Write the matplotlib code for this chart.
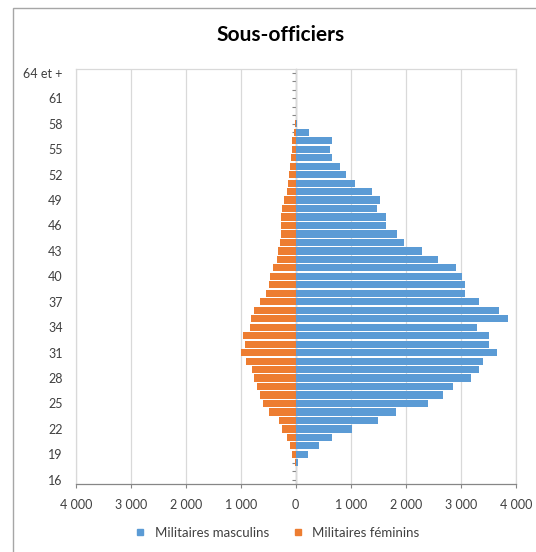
import numpy as np
import matplotlib
matplotlib.use("Agg")
from matplotlib import pyplot as plt
from matplotlib.lines import Line2D
from matplotlib.patches import Rectangle

plt.rcParams['font.family'] = ['Lato', 'DejaVu Sans']

c_m = '#5B9BD5'
c_f = '#ED7D31'
grid_c = '#D9D9D9'
axis_c = '#868686'

# ages 16 .. 64 (64 = "64 et +")
ages = list(range(16, 65))
masculins = [0, 5, 48, 230, 430, 665, 1025, 1500, 1820, 2410,
             2685, 2865, 3190, 3330, 3410, 3660, 3520, 3520, 3290, 3865,
             3690, 3330, 3070, 3070, 3030, 2910, 2595, 2300, 1975, 1835,
             1640, 1640, 1485, 1525, 1380, 1085, 920, 805, 665, 625,
             660, 250, 30, 12, 6, 3, 2, 1, 2]
feminins = [0, 2, 5, 73, 103, 152, 242, 309, 485, 588,
            648, 709, 764, 788, 909, 988, 921, 964, 824, 806,
            758, 648, 545, 485, 467, 406, 345, 327, 291, 273,
            273, 273, 248, 212, 164, 145, 127, 103, 85, 73,
            67, 30, 8, 3, 0, 0, 0, 0, 0]

age_ticks = list(range(16, 65, 3))
age_labels = [str(a) for a in age_ticks[:-1]] + ['64 et +']
x_ticks = [-4000, -3000, -2000, -1000, 0, 1000, 2000, 3000, 4000]

fig = plt.figure(figsize=(5.36, 5.52), dpi=100)
ax = fig.add_axes([75.7 / 536, 1 - 484 / 552, 440 / 536, 415.3 / 552])

ax.barh(ages, masculins, height=0.85, color=c_m, label='Militaires masculins', zorder=2)
ax.barh(ages, [-v for v in feminins], height=0.85, color=c_f, label='Militaires féminins', zorder=2)

ax.set_xlim(-4000, 4000)
ax.set_ylim(15.5, 64.5)
ax.set_xticks(x_ticks)
ax.set_xticklabels([f"{abs(v):,}".replace(",", " ") for v in x_ticks])
ax.set_yticks(age_ticks)
ax.set_yticklabels(age_labels)
ax.tick_params(axis='y', length=0, pad=9.4, labelsize=9, colors='#404040')
ax.tick_params(axis='x', length=2.9, direction='out', color=axis_c, pad=8, labelsize=9, labelcolor='#404040')
for s in ['left', 'top', 'right']:
    ax.spines[s].set_color(grid_c)
    ax.spines[s].set_linewidth(0.9)
ax.spines['bottom'].set_color(axis_c)
ax.spines['bottom'].set_linewidth(0.9)
ax.xaxis.grid(True, color=grid_c, linewidth=0.9)
ax.set_axisbelow(True)

# axe vertical au niveau de zero
sec = ax.secondary_yaxis(0.5)
sec.set_alignment('left')
sec.set_yticks(ages)
sec.set_yticklabels([])
sec.tick_params(axis='y', direction='out', length=2.9, color=axis_c, width=0.8)
sec.spines['left'].set_color(axis_c)
sec.spines['left'].set_linewidth(0.9)

fig.text(0.523, 1 - 41 / 552, 'Sous-officiers', ha='center', va='baseline',
         fontsize=15, fontweight='bold', color='black')

handles = [Line2D([], [], marker='s', linestyle='none', color=c_m, markersize=4.5),
           Line2D([], [], marker='s', linestyle='none', color=c_f, markersize=4.5)]
fig.legend(handles, ['Militaires masculins', 'Militaires féminins'], loc='center',
           bbox_to_anchor=(0.51, 1 - 533 / 552), ncol=2, frameon=False, fontsize=9.5,
           handletextpad=0.1, columnspacing=1.2, labelcolor='#404040')

fig.add_artist(Rectangle((13 / 536, -0.1), 1.2, 0.1 + (552 - 8) / 552,
                         transform=fig.transFigure, fill=False, edgecolor='#A6A6A6',
                         linewidth=1.0, clip_on=False))

plt.savefig("out.png", dpi=100)
plt.close()
